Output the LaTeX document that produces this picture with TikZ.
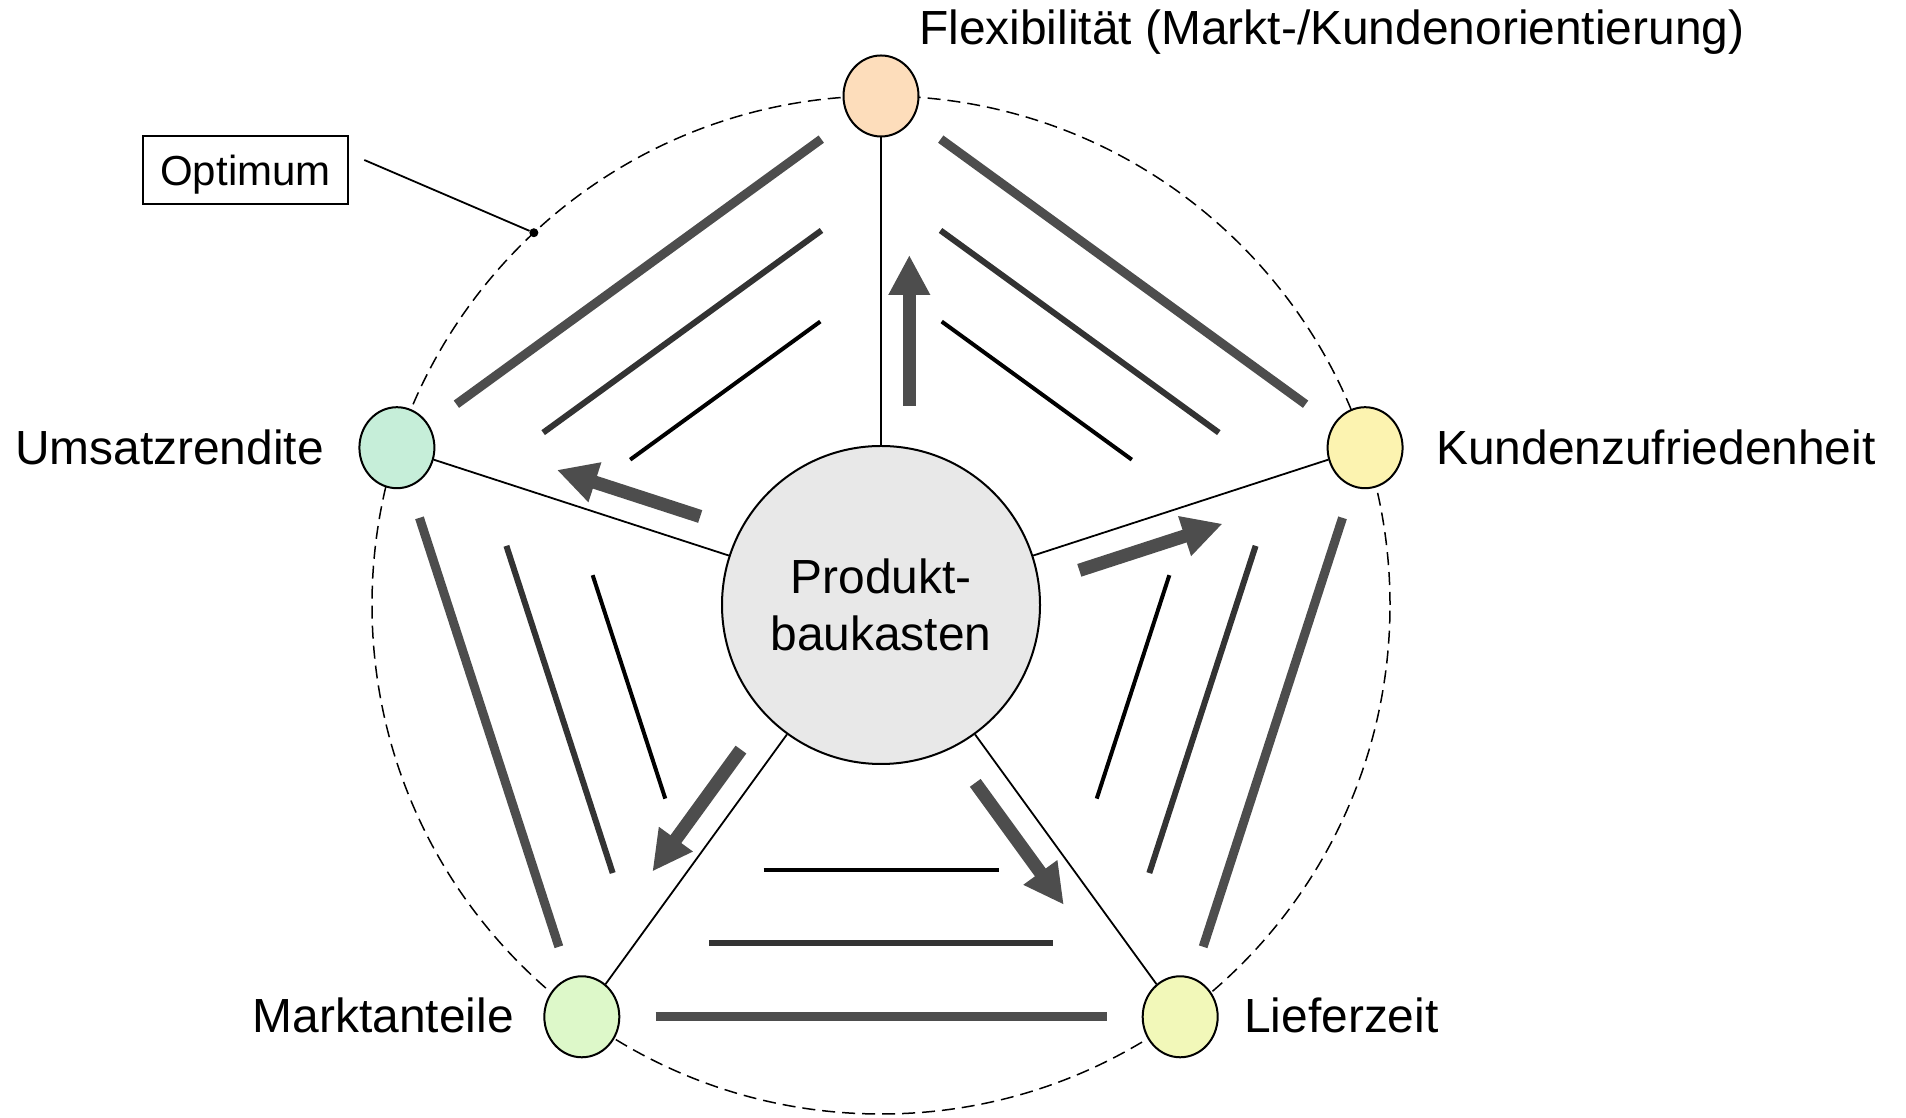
\documentclass[tikz,border=0pt]{standalone}
\usepackage{fontspec}
\setmainfont{Liberation Sans}
\usetikzlibrary{arrows.meta,shapes.geometric,calc}

\definecolor{bargray}{HTML}{4D4D4D}
\definecolor{bardark}{HTML}{333333}
\definecolor{hubfill}{HTML}{E8E8E8}
\definecolor{flexfill}{HTML}{FDDDBB}
\definecolor{kundfill}{HTML}{FCF3B0}
\definecolor{umsfill}{HTML}{C6EED9}
\definecolor{marktfill}{HTML}{DDF8C9}
\definecolor{liefill}{HTML}{F2F8B9}

\begin{document}
\begin{tikzpicture}[x=1pt,y=1pt,
  goal/.style={draw, line width=2pt, ellipse, minimum width=75pt, minimum height=81pt, inner sep=0pt},
  bigfont/.style={font=\fontsize{47.9pt}{57pt}\selectfont},
  lbl/.style={inner sep=0pt, bigfont},
  spoke/.style={line width=1.8pt},
  outerbar/.style={line width=9pt, draw=bargray},
  midbar/.style={line width=6pt, draw=bardark},
  innerbar/.style={line width=4pt, draw=black},
  push/.style={line width=13.3pt, draw=bargray, -{Triangle[length=40pt,width=39pt]}}
]
\useasboundingbox (0,0) rectangle (1906,1118);
\coordinate (C) at (881,513);

% optimum circle
\draw[line width=1.5pt, dash pattern=on 13pt off 7pt] (C) circle (509);

% central hub
\node[circle, draw, line width=2pt, fill=hubfill, minimum size=318pt, inner sep=0pt,
      align=center, bigfont] (hub) at (C) {Produkt-\\baukasten};

% target criteria
\node[goal, fill=flexfill]  (flex)  at ($(C)+(90:509)$)  {};
\node[goal, fill=kundfill]  (kund)  at ($(C)+(18:509)$)  {};
\node[goal, fill=umsfill]   (ums)   at ($(C)+(162:509)$) {};
\node[goal, fill=marktfill] (markt) at ($(C)+(234:509)$) {};
\node[goal, fill=liefill]   (lief)  at ($(C)+(306:509)$) {};

\foreach \n in {flex,kund,ums,markt,lief}
  \draw[spoke] (hub) -- (\n);

% labels
\node[lbl, anchor=base west] (flexlbl)  at (919,1073.7) {Flexibilität (Markt-/Kundenorientierung)};
\node[lbl, anchor=base west] (kundlbl)  at (1436,653) {Kundenzufriedenheit};
\node[lbl, anchor=base east] (umslbl)   at (324,653)  {Umsatzrendite};
\node[lbl, anchor=base east] (marktlbl) at (514,85)   {Marktanteile};
\node[lbl, anchor=base west] (lieflbl)  at (1244,85)  {Lieferzeit};

% tension bars between neighbouring criteria, and outward arrows
\foreach \a in {0,72,144,216,288} {
  \begin{scope}[shift={(C)}, rotate=\a]
    \draw[innerbar] (-117.5,-265) -- (117.5,-265);
    \draw[midbar]   (-172,-338)   -- (172,-338);
    \draw[outerbar] (-225.5,-412) -- (225.5,-412);
    \draw[push] (28.3,199.3) -- (28.3,350);
  \end{scope}
}

% optimum callout
\node[draw, line width=2pt, minimum width=205.6pt, minimum height=68.6pt, inner sep=0pt,
      text depth=0pt, font=\fontsize{42pt}{50pt}\selectfont] (opt) at (245.5,948) {Optimum};
\coordinate (optlead) at (364.3,958);
\node[circle, fill, inner sep=0pt, minimum size=9pt] (optdot) at ($(C)+(133:509)$) {};
\draw[line width=1.8pt] (optlead) -- (optdot);
\end{tikzpicture}
\end{document}
